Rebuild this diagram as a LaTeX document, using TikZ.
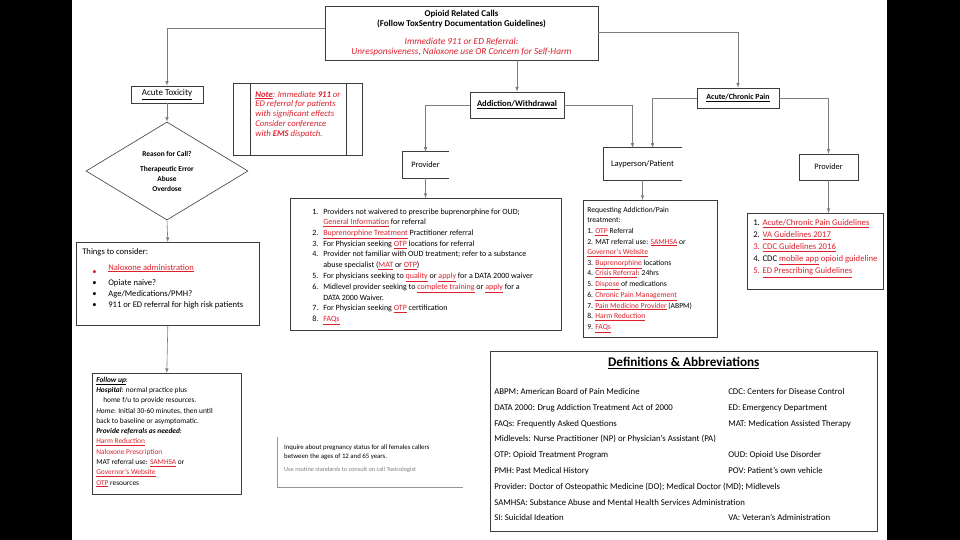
\documentclass[tikz,border=0pt]{standalone}
\usepackage{fontspec}
\setmainfont{Carlito}
\usetikzlibrary{arrows,shapes.geometric}
\definecolor{linkred}{RGB}{222,32,44}
\definecolor{boxgray}{RGB}{60,60,60}
\definecolor{linegray}{RGB}{125,125,125}
\definecolor{framegray}{RGB}{150,150,150}
\newcommand{\lnk}[1]{{\color{linkred}\underline{#1}}}
\tikzset{
	headbox/.style={
		% The shape:
		rectangle,inner sep=0pt,
		% The border:
		draw=boxgray,line width=0.6pt,
		% The text:
		align=center,
	}}
\tikzset{
	listbox/.style={
		% The shape:
		rectangle,anchor=north west,
		% The border:
		draw=boxgray,line width=0.6pt,
		% The text starts at the top left
	}}
\tikzset{
	askbox/.style={
		% The shape:
		diamond,inner sep=0pt,
		minimum width=162pt,minimum height=98pt,
		% The border:
		draw=boxgray,line width=0.6pt,
		align=center,
	}}
\tikzset{
	flow/.style={->,>=latex,draw=linegray,line width=0.6pt}}
\tikzset{
	boxline/.style={draw=boxgray,line width=0.6pt}}

\begin{document}
\begin{tikzpicture}[x=1pt,y=-1pt]
\useasboundingbox (0,0) rectangle (960,540);
\fill[white] (0,0) rectangle (960,540);
\fill[black] (0,0) rectangle (72,540);
\fill[black] (887,0) rectangle (960,540);

% top of the chart
\node[headbox,minimum width=273pt,minimum height=54pt,font={\fontsize{8.9}{10}\selectfont}] (calls) at (461.5,33) {\textbf{Opioid Related Calls}\\
	\textbf{(Follow ToxSentry Documentation Guidelines)}\\[7.5pt]
	\textcolor{linkred}{\fontsize{9.3}{10}\selectfont\itshape Immediate 911 or ED Referral:}\\
	\textcolor{linkred}{\fontsize{9.3}{10}\selectfont\itshape Unresponsiveness, Naloxone use OR Concern for Self-Harm}};

% three branches
\node[headbox,minimum width=72pt,minimum height=17pt,font={\fontsize{9}{10}\selectfont}] (acute) at (167,94.5) {\underline{Acute Toxicity}};
\node[headbox,minimum width=94pt,minimum height=26pt,font={\fontsize{8.6}{10}\selectfont\bfseries}] (addiction) at (517,105) {\underline{Addiction/Withdrawal}};
\node[headbox,minimum width=82pt,minimum height=20pt,font={\fontsize{7.9}{9}\selectfont\bfseries}] (pain) at (738,98) {\underline{Acute/Chronic Pain}};

\node[listbox,inner xsep=22pt,inner ysep=6.9pt,text=linkred,font={\fontsize{8.7}{9.8}\selectfont\itshape}] (note) at (233,83) {\parbox[c][58.2pt][t]{85pt}{\begin{tabular}[t]{@{}l@{}}
	\textbf{\underline{Note}}: Immediate \textbf{911} or\\
	ED referral for patients\\
	with significant effects\\
	Consider conference\\
	with \textbf{EMS} dispatch.
	\end{tabular}}};
\draw[boxline] ([xshift=17pt]note.north west) -- ([xshift=17pt]note.south west);
\draw[boxline] ([xshift=-16pt]note.north east) -- ([xshift=-16pt]note.south east);

% acute toxicity column
\node[askbox,font={\fontsize{7.4}{10}\selectfont\bfseries}] (reason) at (167,171) {Reason for Call?\\[5pt] Therapeutic Error\\ Abuse\\ Overdose};

\node[listbox,inner xsep=6pt,inner ysep=3.9pt,font={\fontsize{8.6}{11.3}\selectfont}] (consider) at (76,242) {\parbox[c][75.2pt][t]{171pt}{\begin{tabular}[t]{@{\hspace{10pt}}p{16pt}@{}l@{}}
	\multicolumn{2}{@{}l@{}}{Things to consider:}\\[4.7pt]
	{\color{linkred}\textbullet} & \lnk{Naloxone administration}\\
	\textbullet & Opiate naive?\\
	\textbullet & Age/Medications/PMH?\\
	\textbullet & 911 or ED referral for high risk patients
	\end{tabular}}};

\node[listbox,inner xsep=4pt,inner ysep=1.6pt,font={\fontsize{7.4}{10.3}\selectfont}] (followup) at (92,373) {\parbox[c][117.8pt][t]{141pt}{\begin{tabular}[t]{@{}l@{}}
	\textbf{\textit{\underline{Follow up}}}:\\
	\textbf{\textit{Hospital}}: normal practice plus\\
	\hspace*{7pt}home f/u to provide resources.\\
	\textit{Home}: Initial 30-60 minutes, then until\\
	back to baseline or asymptomatic.\\
	\textbf{\textit{Provide referrals as needed}}:\\
	\lnk{Harm Reduction}\\
	\textcolor{linkred}{Naloxone Prescription}\\
	MAT referral use: \lnk{SAMHSA} or\\
	\lnk{Governor's Website}\\
	\lnk{OTP} resources
	\end{tabular}}};

% addiction column
\node[inner sep=0pt,minimum width=47pt,minimum height=26pt,font={\fontsize{8.3}{9}\selectfont}] (provmid) at (425.5,165) {Provider};
\draw[boxline] (provmid.north east) -| (provmid.south west) -- (provmid.south east);
\node[inner sep=0pt,minimum width=79pt,minimum height=32pt,font={\fontsize{8.5}{9}\selectfont}] (layperson) at (642.5,164) {Layperson/Patient};
\draw[boxline] (layperson.north east) -| (layperson.south west) -- (layperson.south east);

\node[listbox,inner xsep=4pt,inner ysep=8.3pt,font={\fontsize{8}{10.7}\selectfont}] (provlist) at (290,198) {\parbox[c][115.4pt][t]{263pt}{\begin{tabular}[t]{@{\hspace{18pt}}p{11pt}@{}l@{}}
	1. & Providers not waivered to prescribe buprenorphine for OUD;\\
	   & \lnk{General Information} for referral\\
	2. & \lnk{Buprenorphine Treatment} Practitioner referral\\
	3. & For Physician seeking \lnk{OTP} locations for referral\\
	4. & Provider not familiar with OUD treatment; refer to a substance\\
	   & abuse specialist (\lnk{MAT} or \lnk{OTP})\\
	5. & For physicians seeking to \lnk{quality} or \lnk{apply} for a DATA 2000 waiver\\
	6. & Midlevel provider seeking to \lnk{complete training} or \lnk{apply} for a\\
	   & DATA 2000 Waiver.\\
	7. & For Physician seeking \lnk{OTP} certification\\
	8. & \lnk{FAQs}
	\end{tabular}}};

\node[listbox,inner xsep=4pt,inner ysep=4.35pt,font={\fontsize{7.6}{10.64}\selectfont}] (laylist) at (583,200) {\parbox[c][128.3pt][t]{126pt}{\begin{tabular}[t]{@{}l@{}}
	Requesting Addiction/Pain\\
	treatment:\\
	1. \lnk{OTP} Referral\\
	2. MAT referral use: \lnk{SAMHSA} or\\
	\lnk{Governor's Website}\\
	3. \lnk{Buprenorphine} locations\\
	4. \lnk{Crisis Referral}: 24hrs\\
	5. \lnk{Dispose} of medications\\
	6. \lnk{Chronic Pain Management}\\
	7. \lnk{Pain Medicine Provider} (ABPM)\\
	8. \lnk{Harm Reduction}\\
	9. \lnk{FAQs}
	\end{tabular}}};

% pain column
\node[headbox,minimum width=59pt,minimum height=26pt,font={\fontsize{8.3}{9}\selectfont}] (provpain) at (828.5,167) {Provider};

\node[listbox,inner xsep=6pt,inner ysep=3.3pt,font={\fontsize{8.7}{12.2}\selectfont}] (painlist) at (747,213) {\parbox[c][69.4pt][t]{124pt}{\begin{tabular}[t]{@{}l@{}}
	1. \lnk{Acute/Chronic Pain Guidelines}\\
	2. \lnk{VA Guidelines 2017}\\
	\textcolor{linkred}{3.} \lnk{CDC Guidelines 2016}\\
	4. CDC \lnk{mobile app} \textcolor{linkred}{opioid guideline}\\
	\textcolor{linkred}{5.} \lnk{ED Prescribing Guidelines}
	\end{tabular}}};

% pregnancy reminder
\node[anchor=north west,inner sep=0pt,font={\fontsize{6.8}{9}\selectfont}] (pregnancy) at (284,443.3) {\begin{tabular}[t]{@{}l@{}}
	Inquire about pregnancy status for all females callers\\
	between the ages of 12 and 65 years.\\[4pt]
	\textcolor{gray}{\fontsize{6.3}{9}\selectfont Use routine standards to consult on call Toxicologist}
	\end{tabular}};
\draw[draw=framegray,line width=0.9pt] (277,437) -- (277,487) -- (463,487);

% definitions
\node[listbox,inner xsep=4pt,inner ysep=6.4pt,font={\fontsize{8.8}{15.8}\selectfont}] (defs) at (490,351) {\parbox[c][167.2pt][t]{379pt}{\centering{\fontsize{13.2}{15}\selectfont\bfseries\underline{Definitions \& Abbreviations}}\par
	\vspace{11.7pt}\raggedright
	\begin{tabular}[t]{@{}p{234pt}@{}l@{}}
	ABPM: American Board of Pain Medicine & CDC: Centers for Disease Control\\
	DATA 2000: Drug Addiction Treatment Act of 2000 & ED: Emergency Department\\
	FAQs: Frequently Asked Questions & MAT: Medication Assisted Therapy\\
	\multicolumn{2}{@{}l@{}}{Midlevels: Nurse Practitioner (NP) or Physician's Assistant (PA)}\\
	OTP: Opioid Treatment Program & OUD: Opioid Use Disorder\\
	PMH: Past Medical History & POV: Patient's own vehicle\\
	\multicolumn{2}{@{}l@{}}{Provider: Doctor of Osteopathic Medicine (DO); Medical Doctor (MD); Midlevels}\\
	\multicolumn{2}{@{}l@{}}{SAMHSA: Substance Abuse and Mental Health Services Administration}\\
	SI: Suicidal Ideation & VA: Veteran's Administration
	\end{tabular}}};

% connectors
\draw[flow] ([yshift=5pt]calls.west) -| (acute.north);
\draw[flow] (calls.south -| addiction.north) -- (addiction.north);
\draw[flow] ([yshift=1pt]calls.east) -| (pain.north);
\draw[flow] (acute.south) -- (reason.north);
\draw[flow] (reason.south) -- (consider.north);
\draw[flow] (consider.south) -- (followup.north);
\draw[flow] (addiction.west) -| (provmid.north);
\draw[flow] (addiction.east) -| ([xshift=-10pt]layperson.north);
\draw[flow] (pain.west) -| ([xshift=10pt]layperson.north);
\draw[flow] (pain.east) -| (provpain.north);
\draw[flow] (provmid.south) -- (provmid.south |- provlist.north);
\draw[flow] (layperson.south) -- (layperson.south |- laylist.north);
\draw[flow] (provpain.south) -- (provpain.south |- painlist.north);
\end{tikzpicture}
\end{document}
